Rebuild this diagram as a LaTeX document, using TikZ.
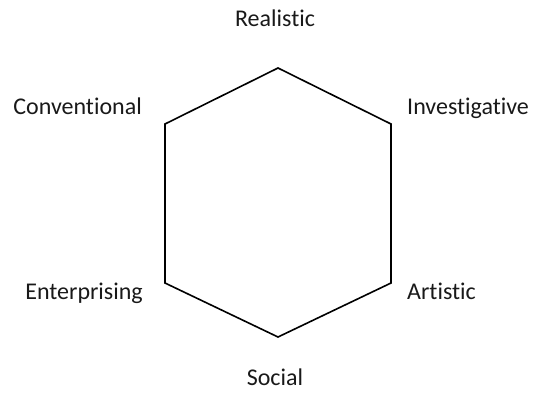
\documentclass[tikz,border=0pt]{standalone}
\usepackage{fontspec}
\setmainfont{Carlito}[Ligatures=NoCommon]
\usepackage{tikz}
\usetikzlibrary{positioning}

\begin{document}
\begin{tikzpicture}[
    x=1pt, y=-1pt,
    label/.style={inner sep=0pt, font=\fontsize{24}{29}\selectfont, text=black!90},
    edge/.style={draw=black, line width=1.6pt, line join=miter}
  ]
    \useasboundingbox (0,0) rectangle (534,396);
    % corners of the hexagon
    \coordinate (r) at (278,68);
    \coordinate (i) at (391,124);
    \coordinate (a) at (391,283);
    \coordinate (s) at (278,337);
    \coordinate (e) at (165,283);
    \coordinate (c) at (165,124);
    \draw[edge] (r) -- (i) -- (a) -- (s) -- (e) -- (c) -- cycle;
    % type labels
    \node[label, anchor=base] (realistic) at (275,27) {Realistic};
    \node[label, anchor=base west] (investigative) at (407,114) {Investigative};
    \node[label, anchor=base west] (artistic) at (407,299) {Artistic};
    \node[label, anchor=base] (social) at (275,385) {Social};
    \node[label, anchor=base east] (enterprising) at (143,299) {Enterprising};
    \node[label, anchor=base east] (conventional) at (142,114) {Conventional};
\end{tikzpicture}
\end{document}
